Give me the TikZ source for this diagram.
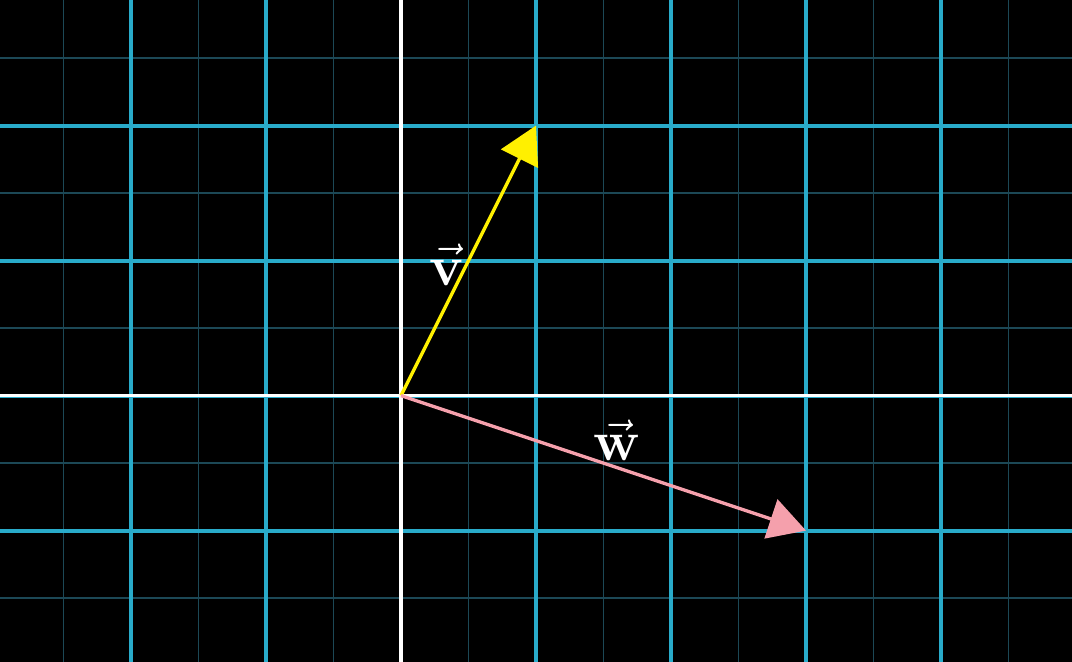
\documentclass[tikz,border=0pt]{standalone}
\usepackage{amsmath, amssymb}
\usepackage{tikz}
\usetikzlibrary{arrows.meta}

\definecolor{gridblu}{RGB}{41,171,202}
\definecolor{gridfaint}{RGB}{28,72,86}
\definecolor{vecyel}{RGB}{255,240,0}
\definecolor{vecpink}{RGB}{245,160,172}

\begin{document}
\begin{tikzpicture}[
    vett/.style={line width=0.7pt, -{Triangle[length=7.8pt,width=8.6pt]}},
    etich/.style={text=white, font=\large}
  ]
    % sfondo
    \fill[black] (-2.97,-1.97) rectangle (4.97,2.93);
    \useasboundingbox (-2.97,-1.97) rectangle (4.97,2.93);
    \clip (-2.97,-1.97) rectangle (4.97,2.93);

    % griglia fine
    \foreach \x in {-2.5,-1.5,...,4.5}
      \draw[gridfaint, line width=0.3pt] (\x,-2.5) -- (\x,3.5);
    \foreach \y in {-1.5,-0.5,...,2.5}
      \draw[gridfaint, line width=0.3pt] (-3.5,\y) -- (5.5,\y);

    % griglia principale
    \foreach \x in {-2,...,4}
      \draw[gridblu, line width=0.85pt] (\x,-2.5) -- (\x,3.5);
    \foreach \y in {-1,...,2}
      \draw[gridblu, line width=0.85pt] (-3.5,\y) -- (5.5,\y);

    % assi
    \draw[white, line width=0.65pt] (-3.5,0) -- (5.5,0);
    \draw[white, line width=0.65pt] (0,-2.5) -- (0,3.5);

    % punti
    \coordinate (O) at (0,0);
    \coordinate (V) at (1,2);
    \coordinate (W) at (3,-1);

    % vettori
    \draw[vett, vecyel] (O) -- (V);
    \draw[vett, vecpink] (O) -- (W);

    % etichette
    \node[etich] (lv) at (0.34,0.97) {$\vec{\mathbf{v}}$};
    \node[etich] (lw) at (1.6,-0.33) {$\vec{\mathbf{w}}$};
\end{tikzpicture}
\end{document}
